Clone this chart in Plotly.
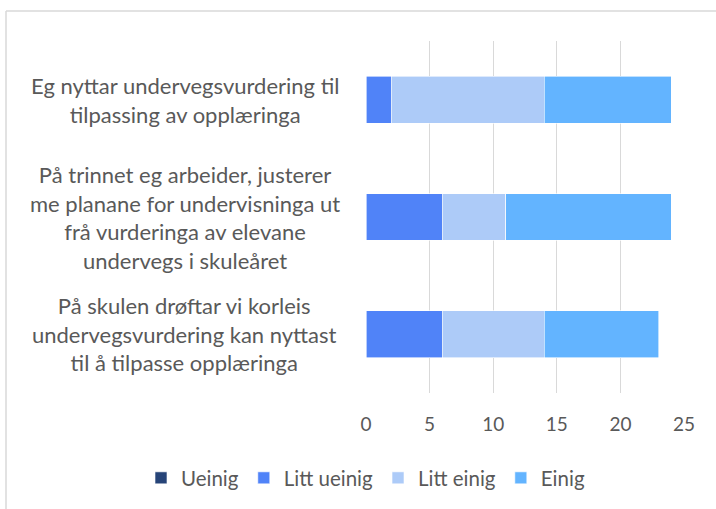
import plotly.graph_objects as go

categories = [
    "Eg nyttar undervegsvurdering til<br>tilpassing av opplæringa",
    "På trinnet eg arbeider, justerer<br>me planane for undervisninga ut<br>frå vurderinga av elevane<br>undervegs i skuleåret",
    "På skulen drøftar vi korleis<br>undervegsvurdering kan nyttast<br>til å tilpasse opplæringa",
]
ueinig = [0, 0, 0]
litt_ueinig = [2, 6, 6]
litt_einig = [12, 5, 8]
einig = [10, 13, 9]
series_names = ["Ueinig", "Litt ueinig", "Litt einig", "Einig"]
tick_vals = [0, 5, 10, 15, 20, 25]

colors = ["#264478", "#5083F8", "#ADCBF8", "#63B4FF"]
FONT = "Lato"
TXT = "#595959"

fig = go.Figure()
for name, vals, col in zip(series_names, [ueinig, litt_ueinig, litt_einig, einig], colors):
    fig.add_trace(go.Bar(
        y=categories, x=vals, name=name, orientation="h",
        marker=dict(color=col, line=dict(color="white", width=0.6)),
    ))

for c in categories:
    fig.add_annotation(
        x=-0.57, xref="paper", y=c, yref="y", text=c, showarrow=False,
        xanchor="center", yanchor="middle", align="center",
        font=dict(family=FONT, size=22, color=TXT),
    )

W, H = 716, 509
L, R, T, B = 366, 32, 41, 116
pw, ph = W - L - R, H - T - B
# outer chart frame (left and top edges visible)
fig.add_shape(type="line", xref="paper", yref="paper",
              x0=(6 - L) / pw, x1=2, y0=1 + (T - 11) / ph, y1=1 + (T - 11) / ph,
              line=dict(color="#d9d9d9", width=1.5))
fig.add_shape(type="line", xref="paper", yref="paper",
              x0=(6 - L) / pw, x1=(6 - L) / pw, y0=1 + (T - 11) / ph, y1=-1,
              line=dict(color="#d9d9d9", width=1.5))

fig.update_layout(
    width=W, height=H, barmode="stack", bargap=0.6,
    margin=dict(l=L, r=R, t=T, b=B, autoexpand=False),
    paper_bgcolor="white", plot_bgcolor="white",
    font=dict(family=FONT, size=19, color=TXT),
    xaxis=dict(range=[0, 25], tickvals=tick_vals, showgrid=True, gridcolor="#d9d9d9",
               gridwidth=1, zeroline=False, showline=False, ticks="",
               ticklabelstandoff=18, tickfont=dict(family=FONT, size=19, color=TXT)),
    yaxis=dict(autorange="reversed", showticklabels=False, showgrid=False,
               zeroline=False, showline=False, ticks=""),
    legend=dict(orientation="h", xref="paper", yref="paper",
                x=(141 - L) / pw, xanchor="left", y=(T + ph - 478) / ph, yanchor="middle",
                font=dict(family=FONT, size=20.5, color=TXT), itemclick=False,
                traceorder="normal", itemwidth=30),
    showlegend=True,
)

fig.write_html("out.html", config={"displayModeBar": False},
               post_script="document.body.style.margin='0';document.body.style.overflow='hidden';")
